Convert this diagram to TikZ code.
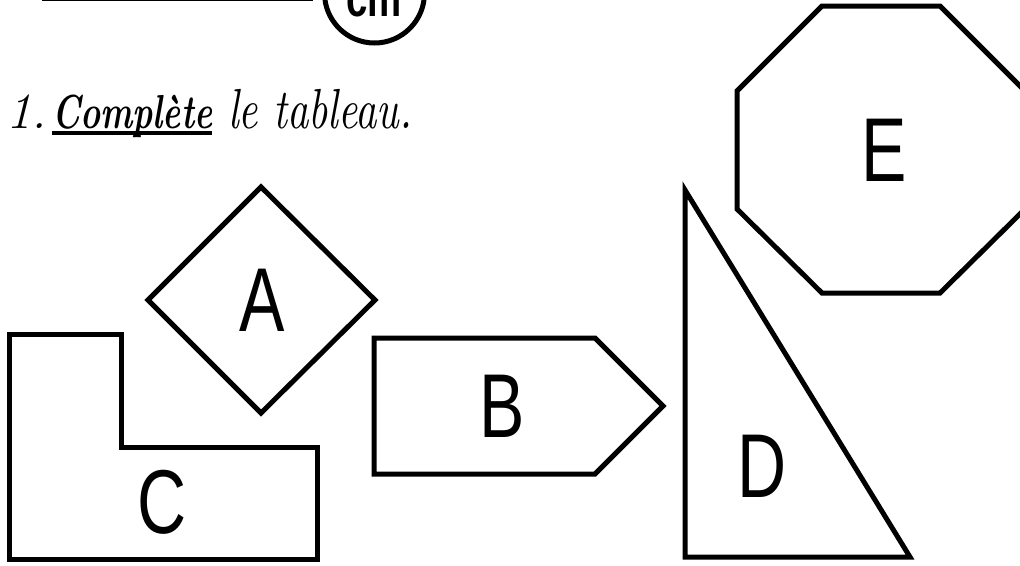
\documentclass[tikz,border=0pt]{standalone}
\usepackage{fontspec}
\newfontfamily\letterfont{Liberation Sans}
\newfontfamily\badgefont{Liberation Sans}
\newcommand\shapeletter[1]{\scalebox{0.75}[1]{\letterfont\fontsize{68}{68}\selectfont #1}}
\begin{document}
\begin{tikzpicture}[x=0.75pt,y=-0.75pt,
  shapeline/.style={draw=black,line width=3.75pt,line join=miter,fill=white},
  letter/.style={inner sep=0pt,anchor=center},
  cursive/.style={inner sep=0pt,anchor=base west}]
\useasboundingbox (0,0) rectangle (1020,565);
\clip (0,0) rectangle (1020,565);
\fill[white] (0,0) rectangle (1020,565);

% header line and badge
\draw[line width=2.2pt] (42,0) -- (313,0);
\draw[line width=3.75pt] (374.5,-7) circle[radius=50];
\node[inner sep=0pt,anchor=base] (badge) at (374,16)
  {\scalebox{0.8}[1.1]{\resizebox{52pt}{!}{\badgefont\bfseries cm}}};

% instruction
\node[cursive] (num) at (6,128) {\fontsize{38}{38}\selectfont\itshape 1.};
\node[cursive] (verb) at (52,128) {\scalebox{1}[1.4]{\resizebox{120pt}{!}{\bfseries\itshape Complète}}};
\node[cursive] (rest) at (228,128) {\scalebox{1}[1.35]{\resizebox{138pt}{!}{\itshape le tableau.}}};
\draw[line width=3pt] (52,133) -- (212,133);

% E octagon
\draw[shapeline] (822,6) -- (940,6) -- (1025,91) -- (1025,209) -- (940,293)
  -- (822,293) -- (737,209) -- (737,91) -- cycle;
\node[letter] (E) at (884,150) {\shapeletter{E}};

% D triangle
\draw[shapeline] (685,190) -- (910,557) -- (685,557) -- cycle;
\node[letter] (D) at (762,466) {\shapeletter{D}};

% A diamond
\draw[shapeline] (261,187) -- (375,300) -- (261,413) -- (148,300) -- cycle;
\node[letter] (A) at (262,300) {\shapeletter{A}};

% C L-shape
\draw[shapeline] (9,334) -- (121,334) -- (121,447) -- (317,447) -- (317,559)
  -- (9,559) -- cycle;
\node[letter] (C) at (162,502) {\shapeletter{C}};

% B pentagon
\draw[shapeline] (374,338) -- (595,338) -- (663,406) -- (595,474) -- (374,474) -- cycle;
\node[letter] (B) at (502,406) {\shapeletter{B}};
\end{tikzpicture}
\end{document}
